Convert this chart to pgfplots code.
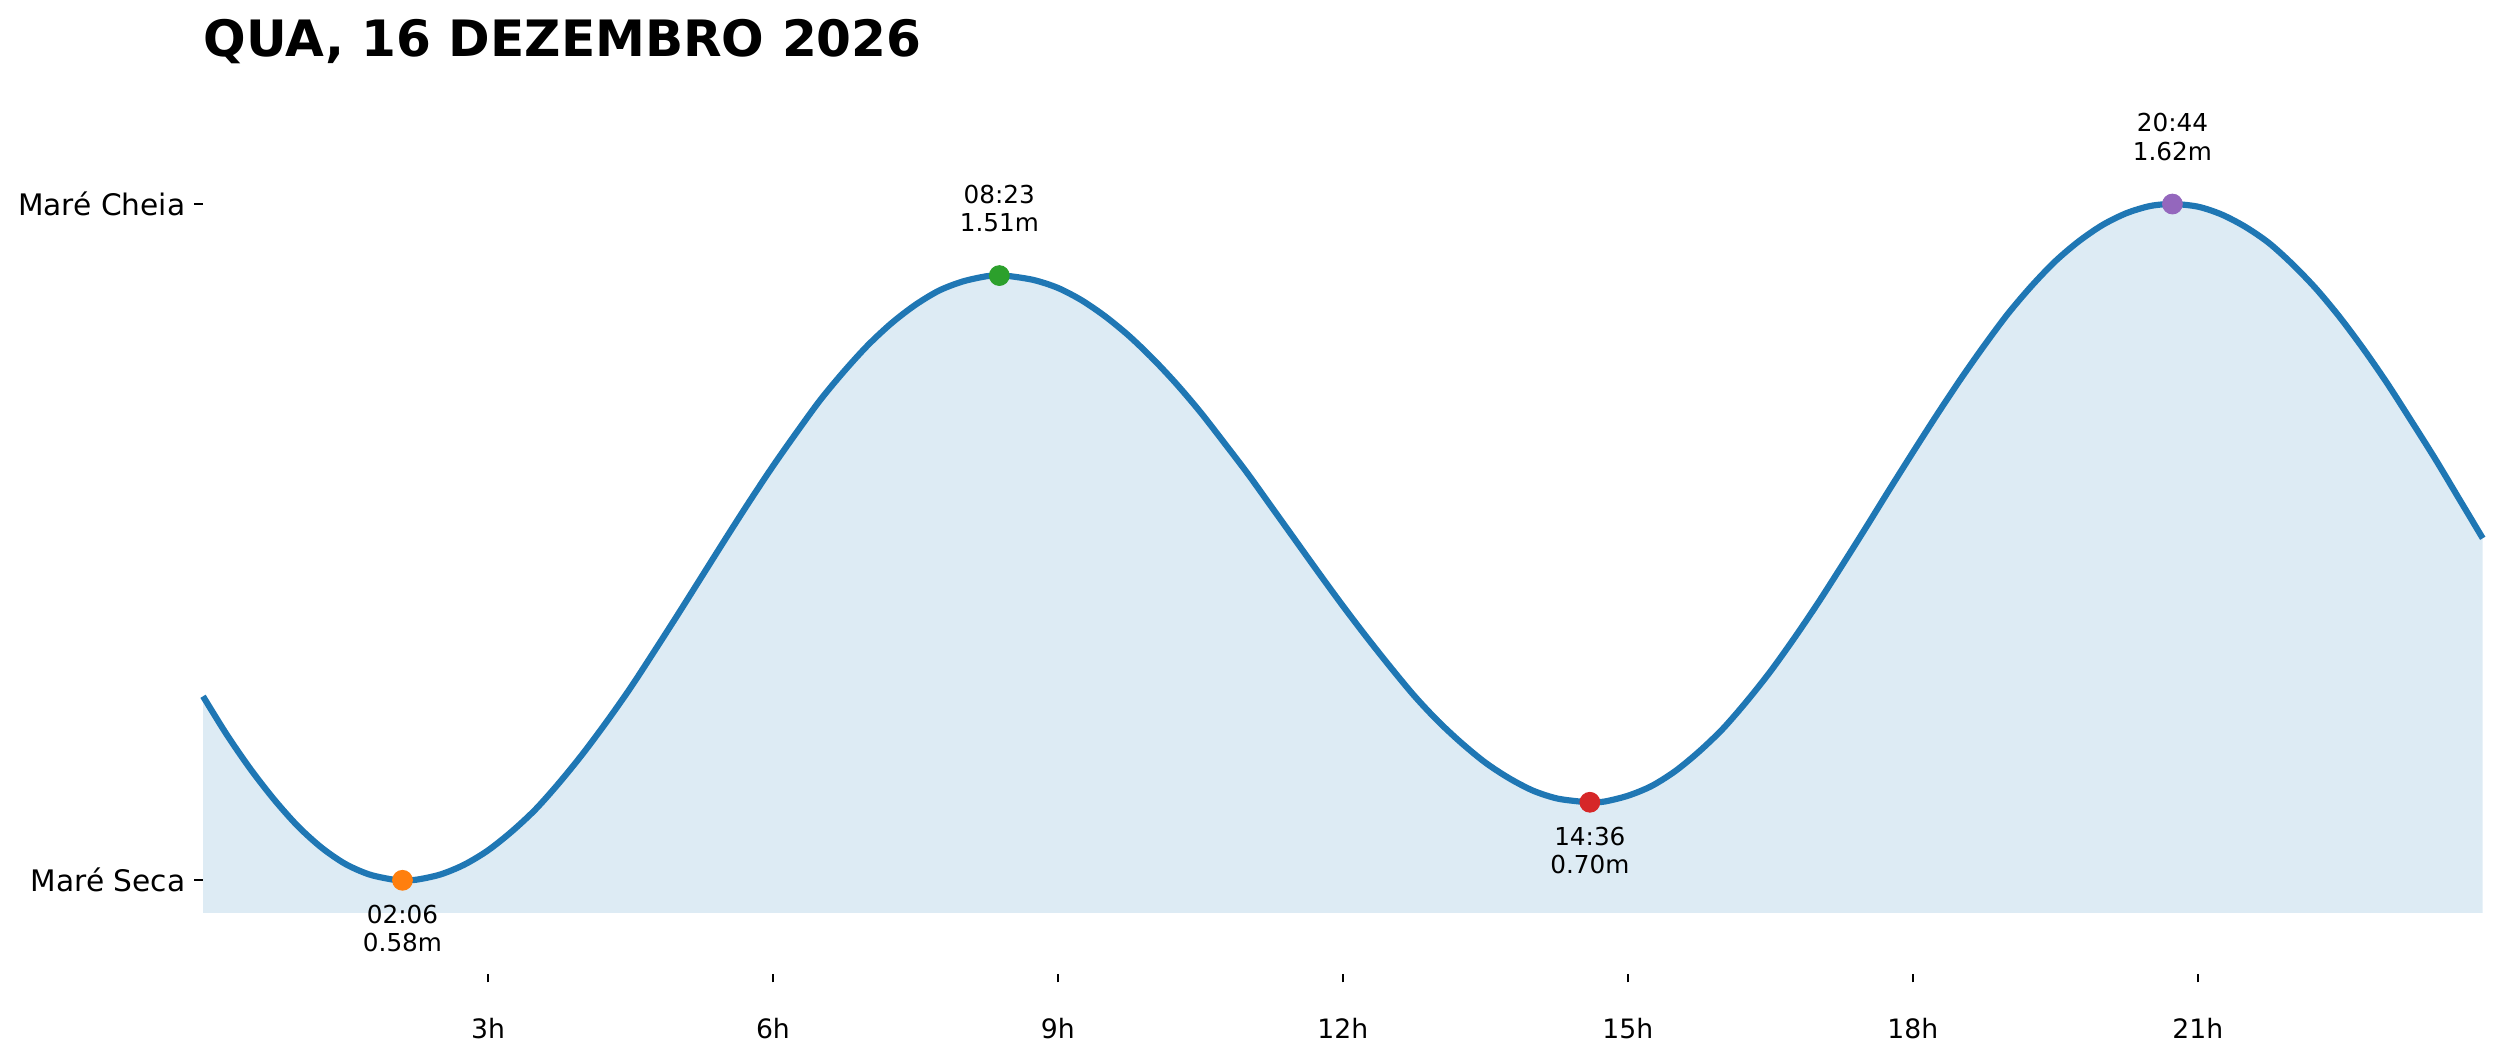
\documentclass[border=0pt]{standalone}
\usepackage{pgfplots}
\pgfplotsset{compat=1.18}
\usepackage{pgfplotstable}
\usepgfplotslibrary{fillbetween}
\usepackage{fontspec}
\setmainfont{DejaVu Sans}
\definecolor{tabblue}{HTML}{1F77B4}
\definecolor{taborange}{HTML}{FF7F0E}
\definecolor{tabgreen}{HTML}{2CA02C}
\definecolor{tabred}{HTML}{D62728}
\definecolor{tabpurple}{HTML}{9467BD}
\definecolor{fillc}{HTML}{DDEBF4}
\pgfplotstableread{
t y
0 0.863
0.25 0.804
0.5 0.751
0.75 0.704
1.0 0.663
1.25 0.630
1.5 0.605
1.75 0.589
2.0 0.581
2.1 0.58
2.25 0.581
2.5 0.589
2.75 0.604
3.0 0.626
3.25 0.655
3.5 0.689
3.75 0.730
4.0 0.775
4.25 0.824
4.5 0.876
4.75 0.932
5.0 0.989
5.25 1.047
5.5 1.105
5.75 1.162
6.0 1.217
6.25 1.269
6.5 1.319
6.75 1.363
7.0 1.403
7.25 1.437
7.5 1.465
7.75 1.487
8.0 1.501
8.25 1.509
8.3833 1.51
8.5 1.509
8.75 1.503
9.0 1.491
9.25 1.472
9.5 1.447
9.75 1.417
10.0 1.382
10.25 1.343
10.5 1.300
10.75 1.253
11.0 1.205
11.25 1.154
11.5 1.103
11.75 1.052
12.0 1.002
12.25 0.954
12.5 0.908
12.75 0.864
13.0 0.825
13.25 0.791
13.5 0.761
13.75 0.737
14.0 0.718
14.25 0.706
14.5 0.701
14.6 0.70
14.75 0.701
15.0 0.710
15.25 0.725
15.5 0.748
15.75 0.778
16.0 0.813
16.25 0.855
16.5 0.901
16.75 0.952
17.0 1.006
17.25 1.063
17.5 1.121
17.75 1.180
18.0 1.238
18.25 1.295
18.5 1.350
18.75 1.402
19.0 1.451
19.25 1.494
19.5 1.532
19.75 1.563
20.0 1.588
20.25 1.606
20.5 1.617
20.7333 1.62
21.0 1.616
21.25 1.604
21.5 1.585
21.75 1.560
22.0 1.527
22.25 1.489
22.5 1.445
22.75 1.396
23.0 1.343
23.25 1.286
23.5 1.228
23.75 1.167
24.0 1.106
}\tide
\begin{document}
\begin{tikzpicture}
\begin{axis}[
  scale only axis,
  width=923pt, height=364.5pt,
  xmin=0, xmax=24,
  ymin=0.4365, ymax=1.821,
  clip=false,
  axis x line*=bottom, axis y line*=left,
  axis line style={draw=none},
  tick align=outside,
  major tick length=3.5pt,
  tick style={black, line width=0.8pt},
  xtick={3,6,9,12,15,18,21},
  xticklabels={3h,6h,9h,12h,15h,18h,21h},
  ytick={0.58,1.62},
  yticklabels={Maré Seca,Maré Cheia},
  xticklabel style={font=\fontsize{10.8}{13}\selectfont, anchor=north, inner sep=0pt, yshift=-14.5pt},
  yticklabel style={font=\fontsize{12}{14}\selectfont, anchor=east, inner sep=0pt, xshift=-3.5pt},
  title={QUA, 16 DEZEMBRO 2026},
  title style={at={(0,1)}, anchor=base west, yshift=1pt, inner sep=0pt, font=\bfseries\fontsize{20.3}{24}\selectfont},
]
\addplot[name path=tide, color=tabblue, line width=2.5pt, smooth] table[x=t, y=y] {\tide};
\addplot[name path=base, draw=none, forget plot] coordinates {(0,0.53) (24,0.53)};
\addplot[fill=fillc, draw=none] fill between[of=tide and base];
\addplot[only marks, mark=*, mark size=4pt, color=taborange] coordinates {(2.1,0.58)}
  node[anchor=north, yshift=-9.7pt, inner sep=0pt, align=center, text=black, font=\fontsize{10}{11.5}\selectfont] {02:06\\0.58m};
\addplot[only marks, mark=*, mark size=4pt, color=tabgreen] coordinates {(8.3833,1.51)}
  node[anchor=south, yshift=17.4pt, inner sep=0pt, align=center, text=black, font=\fontsize{10}{11.5}\selectfont] {08:23\\1.51m};
\addplot[only marks, mark=*, mark size=4pt, color=tabred] coordinates {(14.6,0.70)}
  node[anchor=north, yshift=-9.7pt, inner sep=0pt, align=center, text=black, font=\fontsize{10}{11.5}\selectfont] {14:36\\0.70m};
\addplot[only marks, mark=*, mark size=4pt, color=tabpurple] coordinates {(20.7333,1.62)}
  node[anchor=south, yshift=17.4pt, inner sep=0pt, align=center, text=black, font=\fontsize{10}{11.5}\selectfont] {20:44\\1.62m};
\end{axis}
\pgfresetboundingbox
\path[use as bounding box] (-82.2pt,-35.8pt) rectangle (930.4pt,394.2pt);
\end{tikzpicture}
\end{document}
